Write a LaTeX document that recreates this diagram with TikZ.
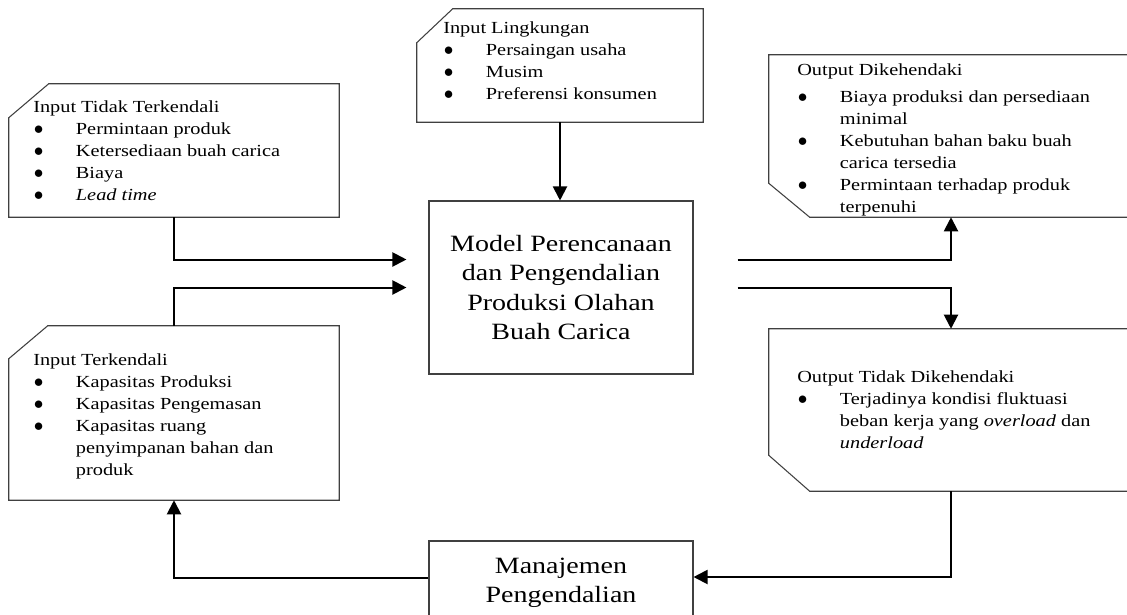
\documentclass[tikz,border=0pt]{standalone}
\usepackage{fontspec}
\setmainfont{Liberation Serif}[FakeStretch=1.2]
\usetikzlibrary{arrows.meta}

\newcommand{\bul}{\makebox[32pt][l]{\hspace{0.5pt}{\fontsize{15}{15}\selectfont$\bullet$}}}
\newcommand{\ind}{\hspace*{32pt}}

\begin{document}
\begin{tikzpicture}[x=0.75pt,y=-0.75pt,
	box/.style={rectangle, inner sep=0pt},
	edge/.style={draw=black!75, line width=0.8pt},
	plain/.style={draw=black!75, line width=0.8pt, rectangle},
	txt/.style={anchor=base west, inner sep=0pt, font=\fontsize{12.7}{16.5}\selectfont},
	big/.style={font=\fontsize{17.5}{22}\selectfont, align=center},
	arr/.style={line width=1.5pt, -{Triangle[length=10.5pt,width=10.5pt]}}]
	\useasboundingbox (0,0) rectangle (1127,614);
	\clip (0,0) rectangle (1127,614);

	\node[box, minimum width=247.5pt, minimum height=99.75pt] (1) at (174,150.5) {};
	\node[box, minimum width=214.5pt, minimum height=84.75pt] (2) at (560,65.5) {};
	\node[box, minimum width=273pt, minimum height=121.5pt] (3) at (951,136) {};
	\node[box, minimum width=247.5pt, minimum height=130.5pt] (4) at (174,413) {};
	\node[plain, big, minimum width=198pt, minimum height=129.75pt] (5) at (561,287.5) {Model Perencanaan\\dan Pengendalian\\Produksi Olahan\\Buah Carica};
	\node[box, minimum width=273pt, minimum height=121.5pt] (6) at (951,410) {};
	\node[plain, big, minimum width=198pt, minimum height=62.25pt] (7) at (561,582.5) {Manajemen\\Pengendalian};

	% cut corners
	\draw[edge] ([xshift=30pt]1.north west) -- (1.north east) -- (1.south east) -- (1.south west) -- ([yshift=-25.5pt]1.north west) -- cycle;
	\draw[edge] ([xshift=27pt]2.north west) -- (2.north east) -- (2.south east) -- (2.south west) -- ([yshift=-25.5pt]2.north west) -- cycle;
	\draw[edge] (3.north west) -- (3.north east) -- (3.south east) -- ([xshift=30.75pt]3.south west) -- ([yshift=25.5pt]3.south west) -- cycle;
	\draw[edge] ([xshift=29.25pt]4.north west) -- (4.north east) -- (4.south east) -- (4.south west) -- ([yshift=-24.75pt]4.north west) -- cycle;
	\draw[edge] (6.north west) -- (6.north east) -- (6.south east) -- ([xshift=30.75pt]6.south west) -- ([yshift=27pt]6.south west) -- cycle;

	\node[txt] (1t) at (33,112) {\begin{tabular}[t]{@{}l@{}}
		Input Tidak Terkendali\\
		\bul Permintaan produk\\
		\bul Ketersediaan buah carica\\
		\bul Biaya\\
		\bul \textit{Lead time}
	\end{tabular}};
	\node[txt] (2t) at (443,33) {\begin{tabular}[t]{@{}l@{}}
		Input Lingkungan\\
		\bul Persaingan usaha\\
		\bul Musim\\
		\bul Preferensi konsumen
	\end{tabular}};
	\node[txt] (3t) at (797,75) {\begin{tabular}[t]{@{}l@{}}
		Output Dikehendaki\\[3.75pt]
		\bul Biaya produksi dan persediaan\\
		\ind minimal\\
		\bul Kebutuhan bahan baku buah\\
		\ind carica tersedia\\
		\bul Permintaan terhadap produk\\
		\ind terpenuhi
	\end{tabular}};
	\node[txt] (4t) at (33,365) {\begin{tabular}[t]{@{}l@{}}
		Input Terkendali\\
		\bul Kapasitas Produksi\\
		\bul Kapasitas Pengemasan\\
		\bul Kapasitas ruang\\
		\ind penyimpanan bahan dan\\
		\ind produk
	\end{tabular}};
	\node[txt] (6t) at (797,382) {\begin{tabular}[t]{@{}l@{}}
		Output Tidak Dikehendaki\\
		\bul Terjadinya kondisi fluktuasi\\
		\ind beban kerja yang \textit{overload} dan\\
		\ind \textit{underload}
	\end{tabular}};

	\coordinate (a1) at ([shift={(-22,-28)}]5.west);
	\coordinate (a2) at ([shift={(-22,0)}]5.west);
	\coordinate (b1) at ([shift={(44,-28)}]5.east);
	\coordinate (b2) at ([shift={(44,0)}]5.east);
	\coordinate (c1) at ([shift={(0,-5.5)}]7.east);
	\coordinate (c2) at ([shift={(0,-4.5)}]7.west);

	\draw[arr] (1.south) |- (a1);
	\draw[arr] (4.north) |- (a2);
	\draw[arr] (2.south) -- (2.south |- 5.north);
	\draw[arr] (b1) -| (3.south);
	\draw[arr] (b2) -| (6.north);
	\draw[arr] (6.south) |- (c1);
	\draw[arr] (c2) -| (4.south);
\end{tikzpicture}
\end{document}
